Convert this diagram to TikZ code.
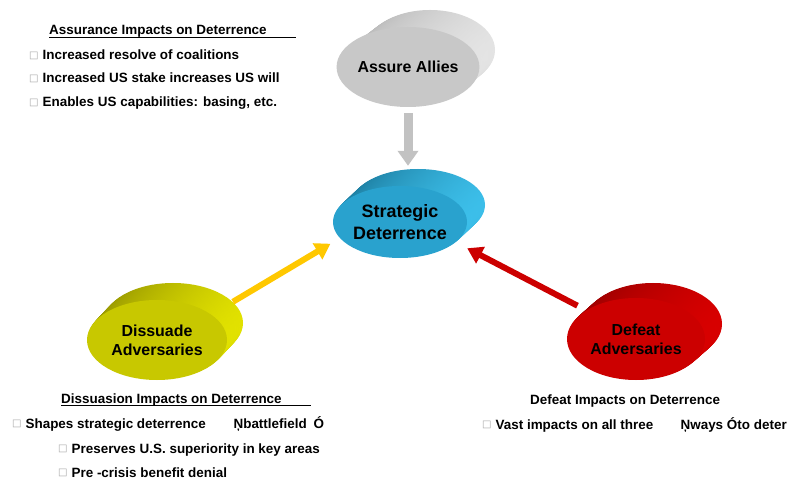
\documentclass[tikz,border=0pt]{standalone}
\usepackage{fontspec}
\setmainfont{Liberation Sans}
\newfontfamily\boxfont{DejaVu Sans}
\usetikzlibrary{shapes.geometric,arrows.meta,calc}

\definecolor{grayface}{HTML}{C8C8C8}
\definecolor{graydark}{HTML}{B8B8B8}
\definecolor{graylight}{HTML}{E4E4E4}
\definecolor{blueface}{HTML}{29A2CE}
\definecolor{bluedark}{HTML}{1C7C9F}
\definecolor{bluelight}{HTML}{3CBFEA}
\definecolor{yelface}{HTML}{C8C800}
\definecolor{yeldark}{HTML}{969600}
\definecolor{yellight}{HTML}{E2E200}
\definecolor{redface}{HTML}{CC0000}
\definecolor{reddark}{HTML}{9A0000}
\definecolor{redlight}{HTML}{D80000}
\definecolor{arrowgray}{HTML}{C2C2C2}
\definecolor{arrowgold}{HTML}{FFC800}
\definecolor{arrowred}{HTML}{CC0000}
\definecolor{boxgray}{HTML}{A8A8A8}

% extruded side of a disk: center, rx, ry, dx, dy, dark colour, light colour
\newcommand\diskside[7]{%
  \foreach \t in {1.00,0.95,...,0.04}{%
    \shade[left color=#6,right color=#7]
      ($(#1)+(\t*#4,\t*#5)$) ellipse[x radius=#2bp, y radius=#3bp];
  }%
}
\newcommand\bx{\raisebox{1.2bp}{\color{boxgray}\boxfont\fontsize{10}{10}\selectfont □}\hspace{4bp}}

\tikzset{
  x=1bp, y=-1bp,
  txt/.style={font=\bfseries\fontsize{13.5}{16}\selectfont, anchor=base west, inner sep=0pt},
  disk/.style={ellipse, inner sep=0pt, align=center,
    font=\bfseries\fontsize{16}{19}\selectfont},
}

\begin{document}
\begin{tikzpicture}
\fill[white] (0,0) rectangle (787,481);
\useasboundingbox (0,0) rectangle (787,481);

% ---- disks ----
\diskside{408,67}{65}{40}{22}{-17}{graydark}{graylight}
\node[disk, fill=grayface, minimum width=130bp, minimum height=80bp] (ass) at (408,67) {Assure Allies};

\diskside{400,222}{67}{36}{18}{-17}{bluedark}{bluelight}
\node[disk, fill=blueface, minimum width=134bp, minimum height=72bp,
  font=\bfseries\fontsize{18}{22}\selectfont] (str) at (400,222) {Strategic\\Deterrence};

\diskside{157,340}{70}{40}{16}{-17}{yeldark}{yellight}
\node[disk, fill=yelface, minimum width=140bp, minimum height=80bp] (dis) at (157,340) {Dissuade\\Adversaries};

\diskside{636,339}{69}{41}{17}{-15}{reddark}{redlight}
\node[disk, fill=redface, minimum width=138bp, minimum height=82bp] (def) at (636,339) {Defeat\\Adversaries};

% ---- arrows into the centre ----
\draw[line width=9bp, arrowgray, -{Triangle[width=20bp,length=15bp]},
  shorten <=6bp, shorten >=20bp] (ass.south) -- (ass.south |- str.north);
\draw[line width=6bp, arrowgold, -{Triangle[width=18bp,length=15bp]},
  shorten <=25bp, shorten >=11bp] (dis.25) -- (str.195);
\draw[line width=6bp, arrowred, -{Triangle[width=18bp,length=15bp]},
  shorten <=10bp, shorten >=13bp] (def.150) -- (str.-20);

% ---- assurance notes ----
\node[txt] (ah) at (49,35) {Assurance Impacts on Deterrence};
\draw[line width=1.5bp] ([yshift=-2.5bp]ah.base west) -- ++(247,0);
\node[txt] (a1) at (29,60) {\bx Increased resolve of coalitions};
\node[txt] (a2) at (29,83) {\bx Increased US stake increases US will};
\node[txt] (a3) at (29,107) {\bx Enables US capabilities: basing, etc.};

% ---- dissuasion notes ----
\node[txt] (dh) at (61,403) {Dissuasion Impacts on Deterrence};
\draw[line width=1.5bp] ([yshift=-2.5bp]dh.base west) -- ++(250,0);
\node[txt] (d1) at (12,428) {\bx\makebox[208bp][l]{Shapes strategic deterrence}\makebox[80bp][l]{Ņbattlefield}Ó};
\node[txt] (d2) at (58,453) {\bx Preserves U.S. superiority in key areas};
\node[txt] (d3) at (58,477) {\bx Pre -crisis benefit denial};

% ---- defeat notes ----
\node[txt] (fh) at (530,404) {Defeat Impacts on Deterrence};
\node[txt] (f1) at (482,429) {\bx\makebox[185bp][l]{Vast impacts on all three}Ņways Óto deter};
\end{tikzpicture}
\end{document}
